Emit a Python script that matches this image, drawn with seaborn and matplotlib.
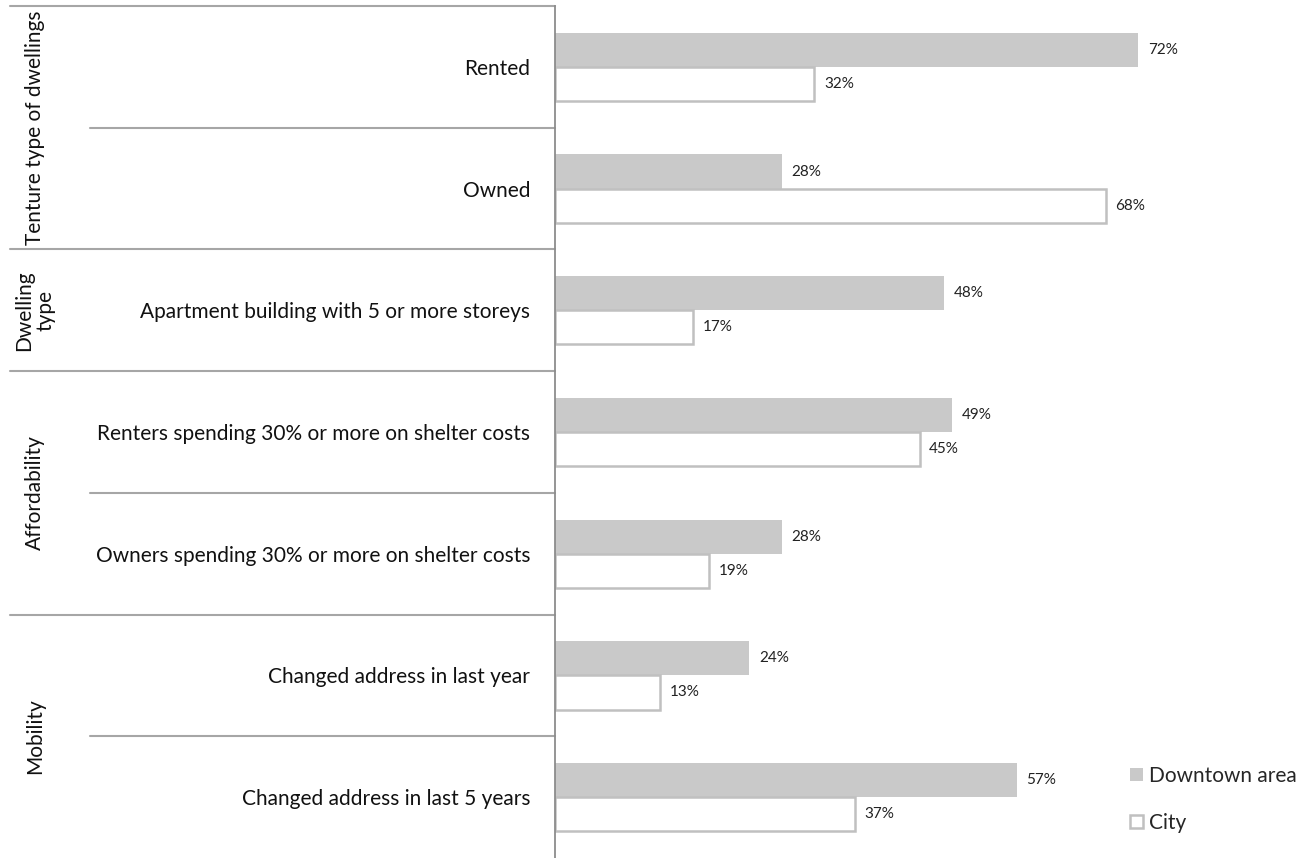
import numpy as np
import pandas as pd
import matplotlib
matplotlib.use('Agg')
import matplotlib.pyplot as plt
import matplotlib.transforms as mtransforms
import seaborn as sns

## Données

categories = ['Rented', 'Owned', 'Apartment building with 5 or more storeys',
              'Renters spending 30% or more on shelter costs',
              'Owners spending 30% or more on shelter costs',
              'Changed address in last year', 'Changed address in last 5 years']
downtown = [72, 28, 48, 49, 28, 24, 57]
city = [32, 68, 17, 45, 19, 13, 37]
series = ['Downtown area', 'City']
groups = ['Tenture type of dwellings', 'Dwelling\ntype', 'Affordability', 'Mobility']
group_centers = [0.5, 2, 3.5, 5.5]

df = pd.DataFrame({
    'category': categories * 2,
    'value': downtown + city,
    'series': [series[0]] * len(categories) + [series[1]] * len(categories),
})

sns.set_style('white')
plt.rcParams['font.family'] = ['Lato', 'DejaVu Sans']

fig = plt.figure(figsize=(13.12, 8.58), dpi=100)
ax = fig.add_axes([555 / 1312, 0, 648 / 1312, 852 / 858])

sns.barplot(data=df, y='category', x='value', hue='series', order=categories,
            hue_order=series, orient='h', width=0.56, ax=ax,
            palette={'Downtown area': '#c9c9c9', 'City': 'white'})

# bordure des barres "City"
for bar in ax.containers[1]:
    bar.set_edgecolor('#c0c0c0')
    bar.set_linewidth(1.8)
for bar in ax.containers[0]:
    bar.set_edgecolor('none')

for cont in ax.containers:
    ax.bar_label(cont, fmt='%d%%', padding=7, fontsize=11, color='#222222')

ax.set_xlim(0, 80)
ax.set_ylim(6.5, -0.5)
ax.set_xlabel('')
ax.set_ylabel('')
ax.set_xticks([])
ax.tick_params(axis='y', length=0, pad=18, labelsize=15, labelcolor='#111111')
for s in ['top', 'right', 'bottom']:
    ax.spines[s].set_visible(False)
ax.spines['left'].set_color('#8c8c8c')
ax.spines['left'].set_linewidth(1.3)

# lignes de séparation à gauche
trans = mtransforms.blended_transform_factory(ax.transAxes, ax.transData)
seps = [(-0.5, 10), (0.5, 90), (1.5, 10), (2.5, 10), (3.5, 90), (4.5, 10), (5.5, 90)]
for yy, x0 in seps:
    ax.plot([(x0 - 555) / 648, 0], [yy, yy], transform=trans, color='#a6a6a6',
            lw=1.5, clip_on=False)

# noms des groupes
for g, yc in zip(groups, group_centers):
    ax.text((35 - 555) / 648, yc, g, transform=trans, rotation=90, ha='center',
            va='center', fontsize=15, color='#111111', linespacing=1.05)

handles, labels = ax.get_legend_handles_labels()
handles[0].set_edgecolor('none')
handles[1].set_edgecolor('#c0c0c0')
handles[1].set_linewidth(1.8)
ax.legend(handles, labels, loc='upper left', bbox_to_anchor=(1130 / 1312, 1 - 766 / 858),
          bbox_transform=fig.transFigure, frameon=False, fontsize=15,
          handlelength=0.6, handleheight=0.6, handletextpad=0.3,
          labelspacing=1.3, borderpad=0, borderaxespad=0)

fig.savefig('out.png', dpi=100)
